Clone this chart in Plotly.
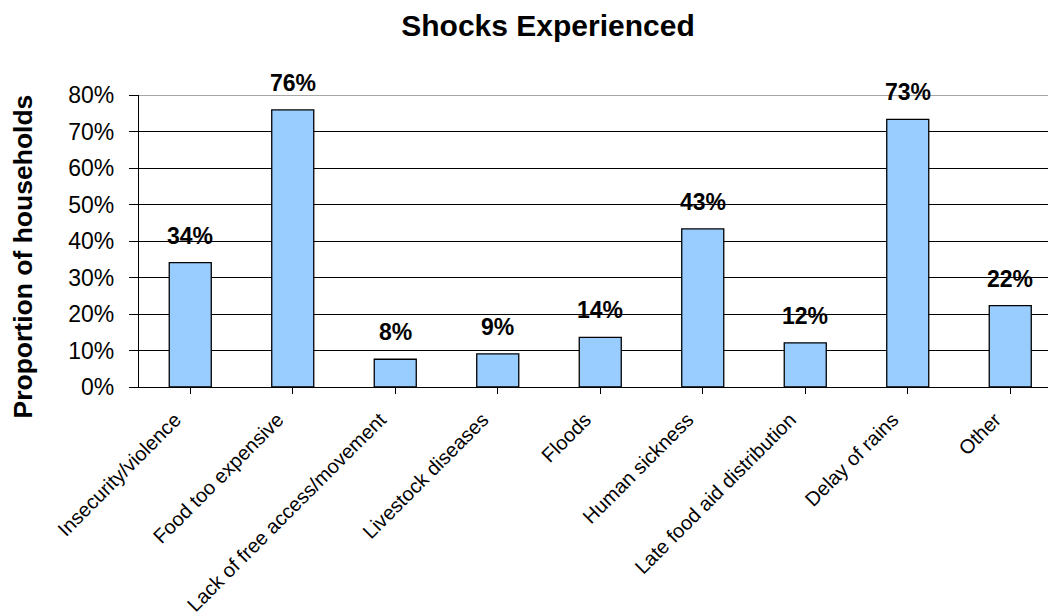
import plotly.graph_objects as go

categories = ["Insecurity/violence", "Food too expensive", "Lack of free access/movement",
              "Livestock diseases", "Floods", "Human sickness",
              "Late food aid distribution", "Delay of rains", "Other"]
values = [34.1, 75.9, 7.6, 9.1, 13.6, 43.3, 12.1, 73.3, 22.3]
value_labels = ["34%", "76%", "8%", "9%", "14%", "43%", "12%", "73%", "22%"]
y_ticks = [0, 10, 20, 30, 40, 50, 60, 70, 80]
y_tick_text = ["0%", "10%", "20%", "30%", "40%", "50%", "60%", "70%", "80%"]

FONT = "Liberation Sans, Arial, sans-serif"

# page has an 8px body margin; figure sized to fill the rest of the window
OFF = 8
W, H = 1056 - OFF, 615 - OFF
L, R, T = 139 - OFF, 0, 95 - OFF
B = H - (387 - OFF)
plot_w = W - L - R
plot_h = H - T - B
cat_px = 102.5

fig = go.Figure()
fig.add_trace(go.Bar(
    x=list(range(len(categories))), y=values, width=0.41,
    marker=dict(color="#99CCFF", line=dict(color="black", width=1.3)),
    hoverinfo="skip",
))

for i, (v, t) in enumerate(zip(values, value_labels)):
    fig.add_annotation(x=i, y=v, text="<b>%s</b>" % t, showarrow=False,
                       yanchor="bottom", xanchor="center", yshift=12,
                       font=dict(family=FONT, size=23, color="black"))

# top border of plot area (grey)
fig.add_shape(type="line", xref="paper", yref="y", x0=0, x1=1, y0=80, y1=80,
              line=dict(color="#888888", width=1.5), layer="above")

# y axis title
fig.add_annotation(xref="paper", yref="paper", x=(22 - 139) / plot_w, y=(387 - 256.5) / plot_h,
                   text="<b>Proportion of households</b>", textangle=-90, showarrow=False,
                   xanchor="center", yanchor="middle",
                   font=dict(family=FONT, size=26.5, color="black"))

x_max = -0.5 + plot_w / cat_px

fig.update_layout(
    width=W, height=H,
    margin=dict(l=L, r=R, t=T, b=B, autoexpand=False),
    paper_bgcolor="white", plot_bgcolor="white",
    showlegend=False,
    title=dict(text="<b>Shocks Experienced</b>", x=(548 - OFF) / W, xref="container", xanchor="center",
               y=1 - (25 - OFF) / H, yref="container", yanchor="middle",
               font=dict(family=FONT, size=30, color="black")),
    xaxis=dict(
        range=[-0.5, x_max], tickmode="array", tickvals=list(range(len(categories))),
        ticktext=categories, tickangle=-45, tickson="boundaries",
        ticks="outside", ticklen=6, tickcolor="black", tickwidth=1.3,
        showline=True, linecolor="black", linewidth=1.3, showgrid=False, zeroline=False,
        tickfont=dict(family=FONT, size=20, color="black"),
        ticklabelshift=-15, ticklabelstandoff=6,
    ),
    yaxis=dict(
        range=[0, 80], tickmode="array", tickvals=y_ticks, ticktext=y_tick_text,
        ticks="outside", ticklen=9, tickcolor="black", tickwidth=1.3,
        showline=True, linecolor="black", linewidth=1.3,
        showgrid=True, gridcolor="black", gridwidth=1.3, zeroline=False,
        tickfont=dict(family=FONT, size=23, color="black"),
        ticklabelstandoff=10,
    ),
)

fig.write_html("out.html")
